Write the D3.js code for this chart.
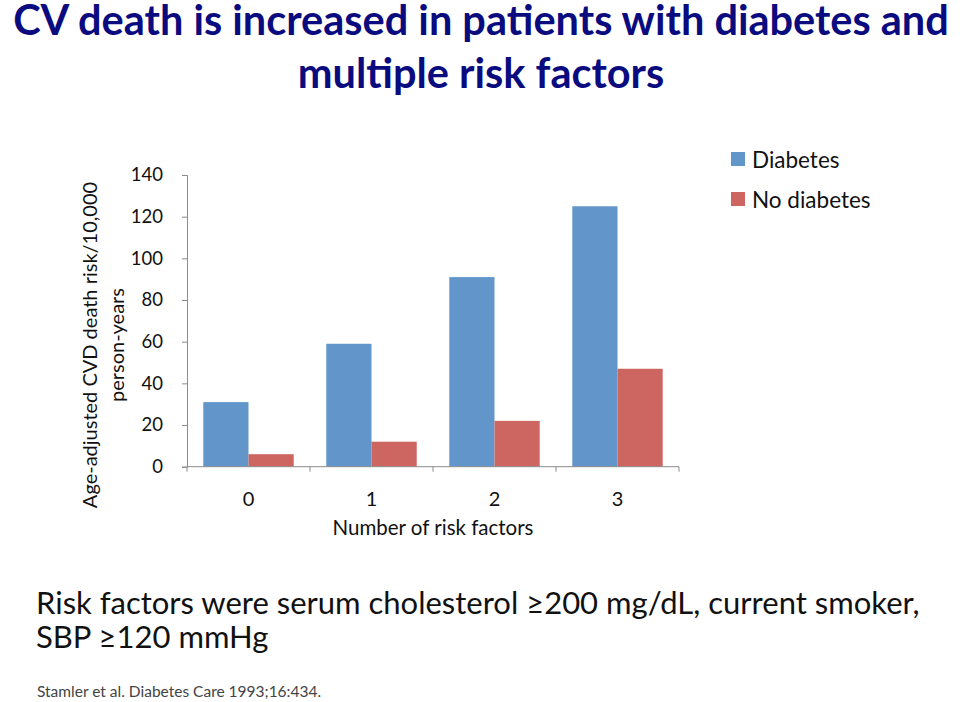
<!DOCTYPE html>
<html><head><meta charset="utf-8">
<script src="https://cdn.jsdelivr.net/npm/d3@7"></script>
<style>body{margin:0;background:#fff}svg{display:block}text{font-family:Lato,"Open Sans",sans-serif}</style>
</head><body>
<script>
const categories = ["0","1","2","3"];
const seriesNames = ["Diabetes","No diabetes"];
const diabetes = [31, 59, 91, 125];
const noDiabetes = [6, 12, 22, 47];
const yTicks = [0,20,40,60,80,100,120,140];
const colors = ["#6296CA","#CD6660"];

const W=960,H=702;
const svg=d3.select("body").append("svg").attr("width",W).attr("height",H);

// Title
const title=svg.append("text").attr("text-anchor","middle").attr("fill","#0B0B80")
  .style("font-weight","bold").style("font-size","41.5px");
title.append("tspan").attr("x",481).attr("y",35).text("CV death is increased in patients with diabetes and");
title.append("tspan").attr("x",481).attr("y",88).text("multiple risk factors");

const x0=d3.scaleBand().domain(categories).range([187,679]).padding(0);
const x1=d3.scaleBand().domain(seriesNames).range([0,x0.bandwidth()]).paddingInner(0).paddingOuter(0.36);
const y=d3.scaleLinear().domain([0,140]).range([466.7,175]);

const data=categories.map((c,i)=>({c,vals:[diabetes[i],noDiabetes[i]]}));

const g=svg.append("g");
g.selectAll("g.grp").data(data).join("g").attr("class","grp")
 .attr("transform",d=>`translate(${x0(d.c)},0)`)
 .selectAll("rect").data(d=>d.vals.map((v,j)=>({v,s:seriesNames[j],j})))
 .join("rect").attr("x",d=>x1(d.s)).attr("width",x1.bandwidth())
 .attr("y",d=>y(d.v)).attr("height",d=>y(0)-y(d.v)).attr("fill",d=>colors[d.j]);

// Y axis
const ya=svg.append("g").attr("transform","translate(187,0)")
 .call(d3.axisLeft(y).tickValues(yTicks).tickSize(5).tickPadding(19));
ya.select(".domain").attr("stroke","#8c8c8c");
ya.selectAll(".tick line").attr("stroke","#8c8c8c");
ya.selectAll(".tick text").style("font-size","18.5px").attr("fill","#111");

// X axis
const xa=svg.append("g").attr("transform",`translate(0,${y(0)})`);
xa.append("line").attr("x1",187).attr("x2",679).attr("stroke","#8c8c8c");
const bounds=categories.map(c=>x0(c)).concat([x0(categories[categories.length-1])+x0.bandwidth()]);
xa.selectAll("line.t").data(bounds).join("line").attr("class","t")
 .attr("x1",d=>d).attr("x2",d=>d).attr("y1",0).attr("y2",5).attr("stroke","#8c8c8c");
xa.selectAll("text").data(categories).join("text")
 .attr("x",d=>x0(d)+x0.bandwidth()/2).attr("y",39).attr("text-anchor","middle")
 .style("font-size","20px").attr("fill","#111").text(d=>d);

svg.append("text").attr("x",433).attr("y",535).attr("text-anchor","middle")
 .style("font-size","20.5px").attr("fill","#111").text("Number of risk factors");

// Y title
const yt=svg.append("text").attr("transform","translate(0,345) rotate(-90)").attr("text-anchor","middle")
 .style("font-size","20px").attr("fill","#111");
yt.append("tspan").attr("x",0).attr("y",97).text("Age-adjusted CVD death risk/10,000");
yt.append("tspan").attr("x",0).attr("y",124).text("person-years");

// Legend
const lg=svg.append("g");
seriesNames.forEach((s,i)=>{
  lg.append("rect").attr("x",731).attr("y",152+i*40).attr("width",14).attr("height",14).attr("fill",colors[i]);
  lg.append("text").attr("x",752).attr("y",168+i*40).style("font-size","22.5px").attr("fill","#111").text(s);
});

// Notes
const note=svg.append("text").style("font-size","31px").attr("fill","#111");
note.append("tspan").attr("x",36).attr("y",614).text("Risk factors were serum cholesterol ≥200 mg/dL, current smoker,");
note.append("tspan").attr("x",36).attr("y",648).text("SBP ≥120 mmHg");
svg.append("text").attr("x",37).attr("y",697).style("font-size","15.5px").attr("fill","#444")
 .text("Stamler et al. Diabetes Care 1993;16:434.");
</script>
</body></html>
